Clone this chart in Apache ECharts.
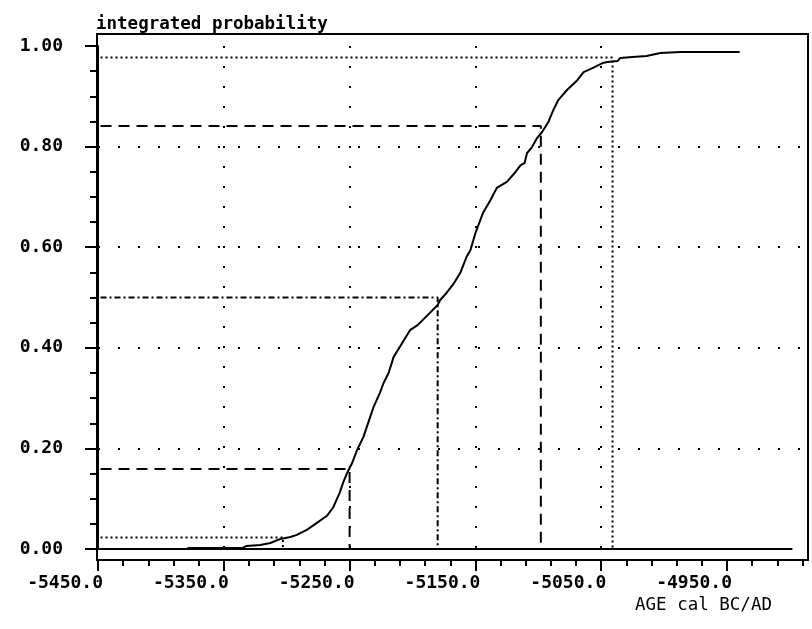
<!DOCTYPE html>
<html>
<head>
<meta charset="utf-8">
<script src="https://cdn.jsdelivr.net/npm/echarts@6/dist/echarts.min.js"></script>
<style>
  html, body { margin: 0; padding: 0; background: #fff; }
  #chart { width: 812px; height: 629px; }
</style>
</head>
<body>
<div id="chart"></div>
<script>
// cumulative (integrated) probability curve
const ages = [
  -5379, -5335, -5332, -5321, -5313, -5305, -5297, -5292, -5284, -5276,
  -5268, -5263, -5258, -5255, -5252, -5250, -5248, -5244, -5239, -5231,
  -5226, -5223, -5219, -5215, -5210, -5202, -5196, -5188, -5180, -5178,
  -5173, -5168, -5162, -5157, -5154, -5150, -5144, -5138, -5133, -5125,
  -5120, -5114, -5111, -5109, -5105, -5101, -5097, -5092, -5088, -5084,
  -5077, -5069, -5064, -5057, -5049, -5045, -5037, -5035, -5025, -5014,
  -5003, -4987, -4940
];
const prob = [
  0.002, 0.002, 0.006, 0.008, 0.012, 0.020, 0.024, 0.028, 0.038, 0.052,
  0.066, 0.083, 0.111, 0.133, 0.151, 0.161, 0.171, 0.197, 0.223, 0.282,
  0.310, 0.330, 0.350, 0.382, 0.402, 0.435, 0.445, 0.465, 0.485, 0.495,
  0.509, 0.525, 0.549, 0.581, 0.594, 0.628, 0.668, 0.694, 0.718, 0.730,
  0.744, 0.763, 0.767, 0.787, 0.799, 0.817, 0.829, 0.849, 0.873, 0.893,
  0.913, 0.932, 0.948, 0.956, 0.966, 0.968, 0.970, 0.976, 0.978, 0.980,
  0.986, 0.988, 0.988
];

// 2 sigma (dotted), 1 sigma (dashed), median (dash-dot)
const sigmaLevels = [0.023, 0.159, 0.5, 0.841, 0.977];
const sigmaAges = [-5303, -5250, -5180, -5098, -5041];
const sigmaStart = -5448;

// zero line
const baseAges = [-5450, -4898];

const xMajorTicks = [-5450, -5350, -5250, -5150, -5050, -4950];

const FONT = '"DejaVu Sans Mono", "Liberation Mono", monospace';

const dotStyle = [2, 3];
const dashStyle = [11, 7];
const dashDotStyle = [6, 3, 2, 3];
const sigmaDash = [dotStyle, dashStyle, dashDotStyle, dashStyle, dotStyle];

const chart = echarts.init(document.getElementById('chart'));

const sigmaSeries = sigmaLevels.map((lv, i) => ({
  type: 'line',
  symbol: 'none',
  silent: true,
  data: [[sigmaStart, lv], [sigmaAges[i], lv], [sigmaAges[i], 0]],
  lineStyle: { color: '#000', width: 2, type: sigmaDash[i] },
  z: 3
}));

const option = {
  backgroundColor: '#fff',
  animation: false,
  title: [
    {
      text: 'integrated probability',
      left: 96, top: 15, padding: 0,
      textStyle: { fontFamily: FONT, fontSize: 17.5, fontWeight: 'bold', color: '#000' }
    },
    {
      text: 'AGE cal BC/AD',
      left: 635, top: 596, padding: 0,
      textStyle: { fontFamily: FONT, fontSize: 17.5, fontWeight: 'normal', color: '#000' }
    }
  ],
  graphic: [
    {
      type: 'rect',
      shape: { x: 97, y: 34, width: 711, height: 526 },
      style: { fill: 'none', stroke: '#000', lineWidth: 2 },
      z: 10
    }
  ],
  grid: { left: 98, right: 9.5, top: 46, bottom: 80 },
  xAxis: [
    {
      type: 'value', min: -5450, max: -4890, interval: 20,
      position: 'bottom', offset: 11,
      axisLine: { show: true, onZero: false, lineStyle: { color: '#000', width: 2 } },
      axisTick: { show: true, length: 6, lineStyle: { color: '#000', width: 2 } },
      axisLabel: { show: false },
      splitLine: { show: false }
    },
    {
      type: 'value', min: -5450, max: -4890, interval: 100,
      position: 'bottom', offset: 11,
      axisLine: { show: false, onZero: false },
      axisTick: { show: true, length: 11, customValues: xMajorTicks, lineStyle: { color: '#000', width: 2 } },
      axisLabel: {
        customValues: xMajorTicks,
        formatter: v => v.toFixed(1),
        fontFamily: FONT, fontSize: 18, fontWeight: 'bold', color: '#000',
        align: 'right', margin: 14, padding: [0, -5, 0, 0]
      },
      splitLine: {
        show: true, showMinLine: false, showMaxLine: false,
        lineStyle: { color: '#000', width: 2, type: [2, 18] }
      }
    }
  ],
  yAxis: [
    {
      type: 'value', min: 0, max: 1, interval: 0.05,
      axisLine: { show: true, onZero: false, lineStyle: { color: '#000', width: 2 } },
      axisTick: { show: true, length: 8, lineStyle: { color: '#000', width: 2 } },
      axisLabel: { show: false },
      splitLine: { show: false }
    },
    {
      type: 'value', min: 0, max: 1, interval: 0.2, position: 'left',
      axisLine: { show: false, onZero: false },
      axisTick: { show: true, length: 13, lineStyle: { color: '#000', width: 2 } },
      axisLabel: {
        formatter: v => v.toFixed(2),
        fontFamily: FONT, fontSize: 18, fontWeight: 'bold', color: '#000',
        margin: 35, padding: [8, 0, 0, 0]
      },
      splitLine: {
        show: true, showMinLine: false, showMaxLine: false,
        lineStyle: { color: '#000', width: 2, type: [2, 18] }
      }
    }
  ],
  series: [
    {
      type: 'line',
      symbol: 'none',
      silent: true,
      data: baseAges.map(a => [a, 0]),
      lineStyle: { color: '#000', width: 2 },
      z: 2
    },
    ...sigmaSeries,
    {
      type: 'line',
      symbol: 'none',
      silent: true,
      data: ages.map((a, i) => [a, prob[i]]),
      lineStyle: { color: '#000', width: 2 },
      z: 4
    }
  ]
};

chart.setOption(option);
</script>
</body>
</html>
